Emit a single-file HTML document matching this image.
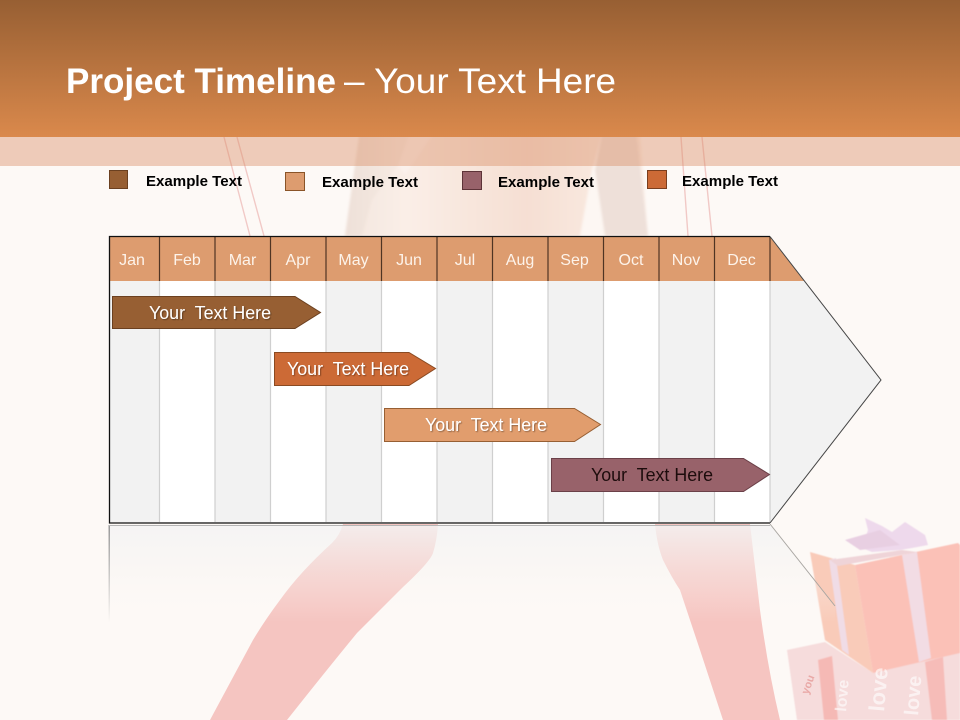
<!DOCTYPE html>
<html><head><meta charset="utf-8"><style>
html,body{margin:0;padding:0;background:#fdf9f6}
svg{display:block}
text{font-family:"Liberation Sans",sans-serif;white-space:pre}
.m{font-size:16px;fill:#fdf3ea;text-anchor:middle}
.l{font-size:15px;font-weight:bold;fill:#000}
.b{font-size:18px}
</style></head><body>
<svg width="960" height="720" viewBox="0 0 960 720" xmlns="http://www.w3.org/2000/svg">
<defs>
<linearGradient id="hd" x1="0" y1="0" x2="0" y2="1"><stop offset="0" stop-color="#975f33"/><stop offset="1" stop-color="#da894c"/></linearGradient>
<linearGradient id="rf" x1="0" y1="0" x2="0" y2="1"><stop offset="0" stop-color="#f3f3f3" stop-opacity=".85"/><stop offset=".5" stop-color="#f6f4f2" stop-opacity=".4"/><stop offset="1" stop-color="#fdf9f6" stop-opacity="0"/></linearGradient>
<linearGradient id="rl" x1="0" y1="0" x2="0" y2="1"><stop offset="0" stop-color="#999"/><stop offset="1" stop-color="#999" stop-opacity="0"/></linearGradient>
<linearGradient id="tor" x1="0" y1="0" x2="1" y2="0"><stop offset="0" stop-color="#f3e6de"/><stop offset=".2" stop-color="#faeee7"/><stop offset=".6" stop-color="#f6dfd3"/><stop offset="1" stop-color="#fbefe8"/></linearGradient>
<linearGradient id="arm" x1="0" y1="0" x2="1" y2="0"><stop offset="0" stop-color="#eee0d8"/><stop offset="1" stop-color="#f8ece5"/></linearGradient>
<filter id="sh" x="-10%" y="-30%" width="120%" height="160%"><feDropShadow dx="1" dy="1" stdDeviation=".6" flood-color="#000" flood-opacity=".35"/></filter>
<filter id="sf"><feGaussianBlur stdDeviation="1.2"/></filter>
<filter id="sf2"><feGaussianBlur stdDeviation=".6"/></filter>
</defs>
<rect width="960" height="720" fill="#fdf9f6"/>
<!-- figure -->
<g filter="url(#sf)">
<path d="M410 130 L640 130 L648 236 L345 236 L360 130Z" fill="url(#tor)"/>
<path d="M360 130 L410 130 L398 165 L372 200 L362 236 L345 236Z" fill="url(#arm)"/>
<path d="M412 130 L436 130 L405 175 L398 165Z" fill="#fbf1ec"/>
<path d="M603 130 L636 130 L648 236 L605 236 L595 170Z" fill="#eee0d9"/>
<path d="M603 130 L595 170 L605 236 L580 236 L592 170Z" fill="#fdf7f3"/>
</g>
<g stroke="#f1c9c6" stroke-width="1.4" fill="none"><path d="M224 137L250 236M237 137L264 236M681 137L688 236M702 137L712 236"/></g>
<path d="M343 524 Q340 535 332 543 Q300 572 280 600 Q265 620 253 640 L210 720 L287 720 Q325 672 357 633 L403 587 Q430 562 433 553 Q437 540 438 524Z" fill="#f5c5c1"/>
<path d="M655 524 Q657 545 663 560 Q672 578 680 590 L700 650 L723 720 L780 720 Q768 670 760 610 L750 524Z" fill="#f6c5c1"/>
<!-- gifts -->
<g filter="url(#sf2)">
<path d="M787 650 L825 642 L873 673 L960 650 L960 720 L797 720Z" fill="#f6dcdc"/>
<path d="M818 660 L832 656 L838 720 L824 720Z" fill="#f5b9b5"/>
<path d="M925 662 L943 657 L947 720 L932 720Z" fill="#f6bcb8"/>
<path d="M810 552 L855 565 L873 673 L825 640Z" fill="#f9cbb9"/>
<path d="M855 565 L958 543 L960 545 L960 653 L873 673Z" fill="#fbc1b7"/>
<path d="M902 555 L917 552 L931 658 L919 662Z" fill="#f2dce4"/>
<path d="M829 560 L836 558 L849 655 L842 650Z" fill="#f0dce6"/>
<path d="M830 560 L902 550 L917 552 L838 566Z" fill="#efd4d8"/>
<path d="M862 548 L868 530 L865 518 L882 526 L892 532 L905 522 L925 535 L928 545 L912 548 L900 550 L872 552Z" fill="#eed9ec"/>
<path d="M845 540 L880 530 L900 545 L860 550Z" fill="#e8cfe2"/>
</g>
<g font-weight="bold" fill="#fff" fill-opacity=".6">
<text transform="translate(846 712) rotate(-85)" font-size="16">love</text>
<text transform="translate(884 712) rotate(-85)" font-size="22">love</text>
<text transform="translate(918 716) rotate(-85)" font-size="20">love</text>
<text transform="translate(808 695) rotate(-70)" font-size="11" fill="#e9a8a6" fill-opacity="1">you</text>
</g>
<!-- reflection -->
<path d="M109 525 L770 525 L835 606 L835 622 L109 622Z" fill="url(#rf)"/>
<rect x="108.500" y="525" width="1.500" height="98" fill="url(#rl)"/>
<path d="M109 525.500H770" stroke="#b5b5b5" stroke-width="1"/>
<path d="M770 524 L835 606" stroke="#a9a6a2" stroke-width="1" fill="none"/>
<!-- header -->
<rect width="960" height="137" fill="url(#hd)"/>
<rect y="137" width="960" height="29" fill="#da8c64" fill-opacity=".42"/>
<text x="66" y="93" font-size="35" font-weight="bold" fill="#fff" textLength="270" lengthAdjust="spacingAndGlyphs">Project Timeline</text>
<text x="344" y="93" font-size="35" fill="#fff" textLength="272" lengthAdjust="spacingAndGlyphs">– Your Text Here</text>
<!-- legend -->
<rect x="109.500" y="170.500" width="18" height="18" fill="#975f33" stroke="#6b4020"/>
<rect x="285.500" y="172.500" width="19" height="18" fill="#dd9c6f" stroke="#8a5428"/>
<rect x="462.500" y="171.500" width="19" height="18" fill="#98626a" stroke="#5d3338"/>
<rect x="647.500" y="170.500" width="19" height="18" fill="#cc6a36" stroke="#7a3e1e"/>
<text class="l" x="146" y="186" textLength="96" lengthAdjust="spacingAndGlyphs">Example Text</text>
<text class="l" x="322" y="187" textLength="96" lengthAdjust="spacingAndGlyphs">Example Text</text>
<text class="l" x="498" y="187" textLength="96" lengthAdjust="spacingAndGlyphs">Example Text</text>
<text class="l" x="682" y="186" textLength="96" lengthAdjust="spacingAndGlyphs">Example Text</text>
<!-- chart -->
<path d="M109.500 236.500 L770 236.500 L881 380 L770 523 L109.500 523Z" fill="#f2f2f2"/>
<g fill="#fff">
<rect x="160" y="281" width="55" height="241"/><rect x="271" y="281" width="55" height="241"/><rect x="382" y="281" width="55" height="241"/><rect x="493" y="281" width="55" height="241"/><rect x="604" y="281" width="55" height="241"/><rect x="715" y="281" width="55" height="241"/>
</g>
<path d="M159.500 281V522M215 281V522M270.500 281V522M326 281V522M381.500 281V522M437 281V522M492.500 281V522M548 281V522M603.500 281V522M659 281V522M714.500 281V522M770 281V522" stroke="#cfcfcf" stroke-width="1.200" fill="none"/>
<path d="M109.500 237 L770 237 L804 281 L109.500 281Z" fill="#dd9c6f"/>
<path d="M159.500 237V281M215 237V281M270.500 237V281M326 237V281M381.500 237V281M437 237V281M492.500 237V281M548 237V281M603.500 237V281M659 237V281M714.500 237V281M770 237V281" stroke="#4f3423" stroke-width="1.200" fill="none"/>
<path d="M770 523 L109.500 523 L109.500 236.500 L770 236.500" stroke="#111" stroke-width="1.300" fill="none"/>
<path d="M770 236.500 L881 380 L770 523" stroke="#444" stroke-width="1" fill="none"/>
<g>
<text class="m" x="132" y="265">Jan</text><text class="m" x="187" y="265">Feb</text><text class="m" x="242.500" y="265">Mar</text><text class="m" x="298" y="265">Apr</text><text class="m" x="353.500" y="265">May</text><text class="m" x="409" y="265">Jun</text><text class="m" x="465" y="265">Jul</text><text class="m" x="520" y="265">Aug</text><text class="m" x="574.500" y="265">Sep</text><text class="m" x="631" y="265">Oct</text><text class="m" x="686" y="265">Nov</text><text class="m" x="741.500" y="265">Dec</text>
</g>
<!-- bars -->
<path d="M112.500 296.500 H295 L320.500 312.500 L295 328.500 H112.500Z" fill="#975f33" stroke="#6b4020"/>
<path d="M274.500 352.500 H409 L435.500 368.500 L409 385.500 H274.500Z" fill="#cc6a36" stroke="#8a4a22"/>
<path d="M384.500 408.500 H574.500 L600.500 424.500 L574.500 441.500 H384.500Z" fill="#e19d6d" stroke="#975f33"/>
<path d="M551.500 458.500 H743.500 L769.500 474.500 L743.500 491.500 H551.500Z" fill="#98626a" stroke="#6b4048"/>
<g fill="#fff" filter="url(#sh)">
<text class="b" x="149" y="319" textLength="122" lengthAdjust="spacingAndGlyphs">Your  Text Here</text>
<text class="b" x="287" y="375" textLength="122" lengthAdjust="spacingAndGlyphs">Your  Text Here</text>
<text class="b" x="425" y="431" textLength="122" lengthAdjust="spacingAndGlyphs">Your  Text Here</text>
</g>
<text class="b" x="591" y="481" textLength="122" lengthAdjust="spacingAndGlyphs" fill="#1d0c0c">Your  Text Here</text>
</svg>
</body></html>
